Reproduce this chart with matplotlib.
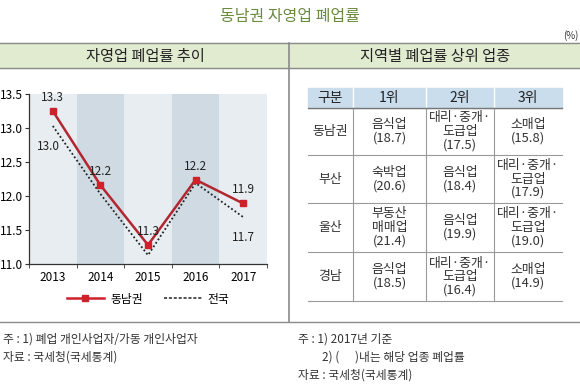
import matplotlib
matplotlib.use("Agg")
import matplotlib.pyplot as plt
from matplotlib.patches import Rectangle
from matplotlib.lines import Line2D
import numpy as np

plt.rcParams["font.family"] = ["Noto Sans CJK KR", "DejaVu Sans"]

# ================== datos ============== #
years = ["2013", "2014", "2015", "2016", "2017"]
dongnam = [13.25, 12.16, 11.28, 12.24, 11.89]
dongnam_lbl = ["13.3", "12.2", "11.3", "12.2", "11.9"]
national = [13.03, 12.03, 11.13, 12.19, 11.69]
national_lbl = {0: "13.0", 4: "11.7"}

tbl_cols = ["구분", "1위", "2위", "3위"]
tbl_regions = ["동남권", "부산", "울산", "경남"]
tbl_rank1 = ["음식업\n(18.7)", "숙박업\n(20.6)", "부동산\n매매업\n(21.4)", "음식업\n(18.5)"]
tbl_rank2 = ["대리·중개·\n도급업\n(17.5)", "음식업\n(18.4)", "음식업\n(19.9)", "대리·중개·\n도급업\n(16.4)"]
tbl_rank3 = ["소매업\n(15.8)", "대리·중개·\n도급업\n(17.9)", "대리·중개·\n도급업\n(19.0)", "소매업\n(14.9)"]

# ================== colores ============== #
RED = "#b3262f"
GREEN_T = "#6a8a3c"
GREEN_BG = "#e0ebd0"
BLUE_H = "#c9ddec"
BAND = ["#e7edf1", "#cfdae2"]
LINE = "#8a8a8a"
TXT = "#222222"

W, H = 580, 390
fig = plt.figure(figsize=(W / 100, H / 100), dpi=100)

# ================== capa de fondo (pixeles) ============== #
bg = fig.add_axes([0, 0, 1, 1])
bg.set_xlim(0, W)
bg.set_ylim(H, 0)
bg.axis("off")

bg.text(290, 17, "동남권 자영업 폐업률", ha="center", va="center", fontsize=11.5, color=GREEN_T)
bg.text(578, 36, "(%)", ha="right", va="center", fontsize=7, color="#333333")
bg.add_patch(Rectangle((0, 43), W, 25, color=GREEN_BG, zorder=0))
bg.plot([0, W], [43, 43], color=LINE, lw=1)
bg.plot([0, W], [68, 68], color=LINE, lw=1)
bg.plot([0, W], [322, 322], color=LINE, lw=1)
bg.plot([289, 289], [43, 322], color=LINE, lw=1.2)
bg.text(145, 56, "자영업 폐업률 추이", ha="center", va="center", fontsize=11, color=TXT)
bg.text(435, 56, "지역별 폐업률 상위 업종", ha="center", va="center", fontsize=11, color=TXT)

# notas
kw = dict(ha="left", va="center", fontsize=8.5, color="#333333")
bg.text(3, 339, "주 : 1) 폐업 개인사업자/가동 개인사업자", **kw)
bg.text(3, 357, "자료 : 국세청(국세통계)", **kw)
bg.text(298, 339, "주 : 1) 2017년 기준", **kw)
bg.text(322, 357, "2) (      )내는 해당 업종 폐업률", **kw)
bg.text(298, 375, "자료 : 국세청(국세통계)", **kw)

# ================== tabla ============== #
col_x = [308, 353, 426, 494, 562]
row_y = [88, 108, 155, 203, 252, 301]
bg.add_patch(Rectangle((col_x[0], row_y[0]), col_x[-1] - col_x[0], row_y[1] - row_y[0],
                       color=BLUE_H, zorder=0))
for x in col_x[1:-1]:
    bg.plot([x, x], [row_y[0], row_y[1]], color="white", lw=1)
    bg.plot([x, x], [row_y[1], row_y[-1]], color="#9a9a9a", lw=0.8)
bg.plot([col_x[0], col_x[-1]], [row_y[1], row_y[1]], color="#777777", lw=1)
for y in row_y[2:]:
    bg.plot([col_x[0], col_x[-1]], [y, y], color="#9a9a9a", lw=0.8)

centers = [(col_x[i] + col_x[i + 1]) / 2 for i in range(4)]
for c, name in zip(centers, tbl_cols):
    bg.text(c, (row_y[0] + row_y[1]) / 2, name, ha="center", va="center", fontsize=10, color=TXT)
for r in range(4):
    cy = (row_y[r + 1] + row_y[r + 2]) / 2
    cells = [tbl_regions[r], tbl_rank1[r], tbl_rank2[r], tbl_rank3[r]]
    for c, s in zip(centers, cells):
        bg.text(c, cy, s, ha="center", va="center", fontsize=9.3, color="#333333", linespacing=1.05)

# ================== grafico de lineas ============== #
ax = fig.add_axes([29 / W, 1 - 264 / H, (267 - 29) / W, (264 - 94) / H])
x = np.arange(len(years))
for i in x:
    ax.axvspan(i - 0.5, i + 0.5, color=BAND[i % 2], lw=0, zorder=0)
ax.plot(x, national, ls=(0, (1, 1.3)), color="#222222", lw=1.3, zorder=2)
ax.plot(x, dongnam, color=RED, lw=1.8, marker="s", ms=5, mfc="#d0202a", mec="#d0202a", zorder=3)

for i, (v, s) in enumerate(zip(dongnam, dongnam_lbl)):
    ax.text(i, v + 0.2, s, ha="center", va="center", fontsize=8.5, color=TXT)
for i, s in national_lbl.items():
    dx = -0.1 if i == 0 else 0
    ax.text(i + dx, national[i] - 0.3, s, ha="center", va="center", fontsize=8.5, color=TXT)

ax.set_xlim(-0.5, 4.5)
ax.set_ylim(11.0, 13.5)
ax.set_yticks([11.0, 11.5, 12.0, 12.5, 13.0, 13.5])
ax.set_yticklabels([f"{t:.1f}" for t in ax.get_yticks()], fontsize=8.5)
ax.set_xticks(x)
ax.set_xticklabels(years, fontsize=8.5)
ax.set_xticks(np.arange(-0.5, 5, 1), minor=True)
ax.tick_params(axis="x", which="major", length=0, pad=5)
ax.tick_params(axis="x", which="minor", length=3, color="#333333")
ax.tick_params(axis="y", length=3, color="#333333", pad=1.5)
for sp in ["top", "right"]:
    ax.spines[sp].set_visible(False)
for sp in ["left", "bottom"]:
    ax.spines[sp].set_color("#333333")
    ax.spines[sp].set_linewidth(0.9)

# leyenda
handles = [Line2D([], [], color="#d0202a", lw=1.8, marker="s", ms=5),
           Line2D([], [], color="#222222", lw=1.1, ls=(0, (2, 1.2)))]
fig.legend(handles, ["동남권", "전국"], loc="center", bbox_to_anchor=(148 / W, 1 - 299 / H), ncol=2,
           frameon=False, fontsize=8.5, handlelength=3.2, columnspacing=1.8, handletextpad=0.5)

fig.savefig("out.png", dpi=100)
